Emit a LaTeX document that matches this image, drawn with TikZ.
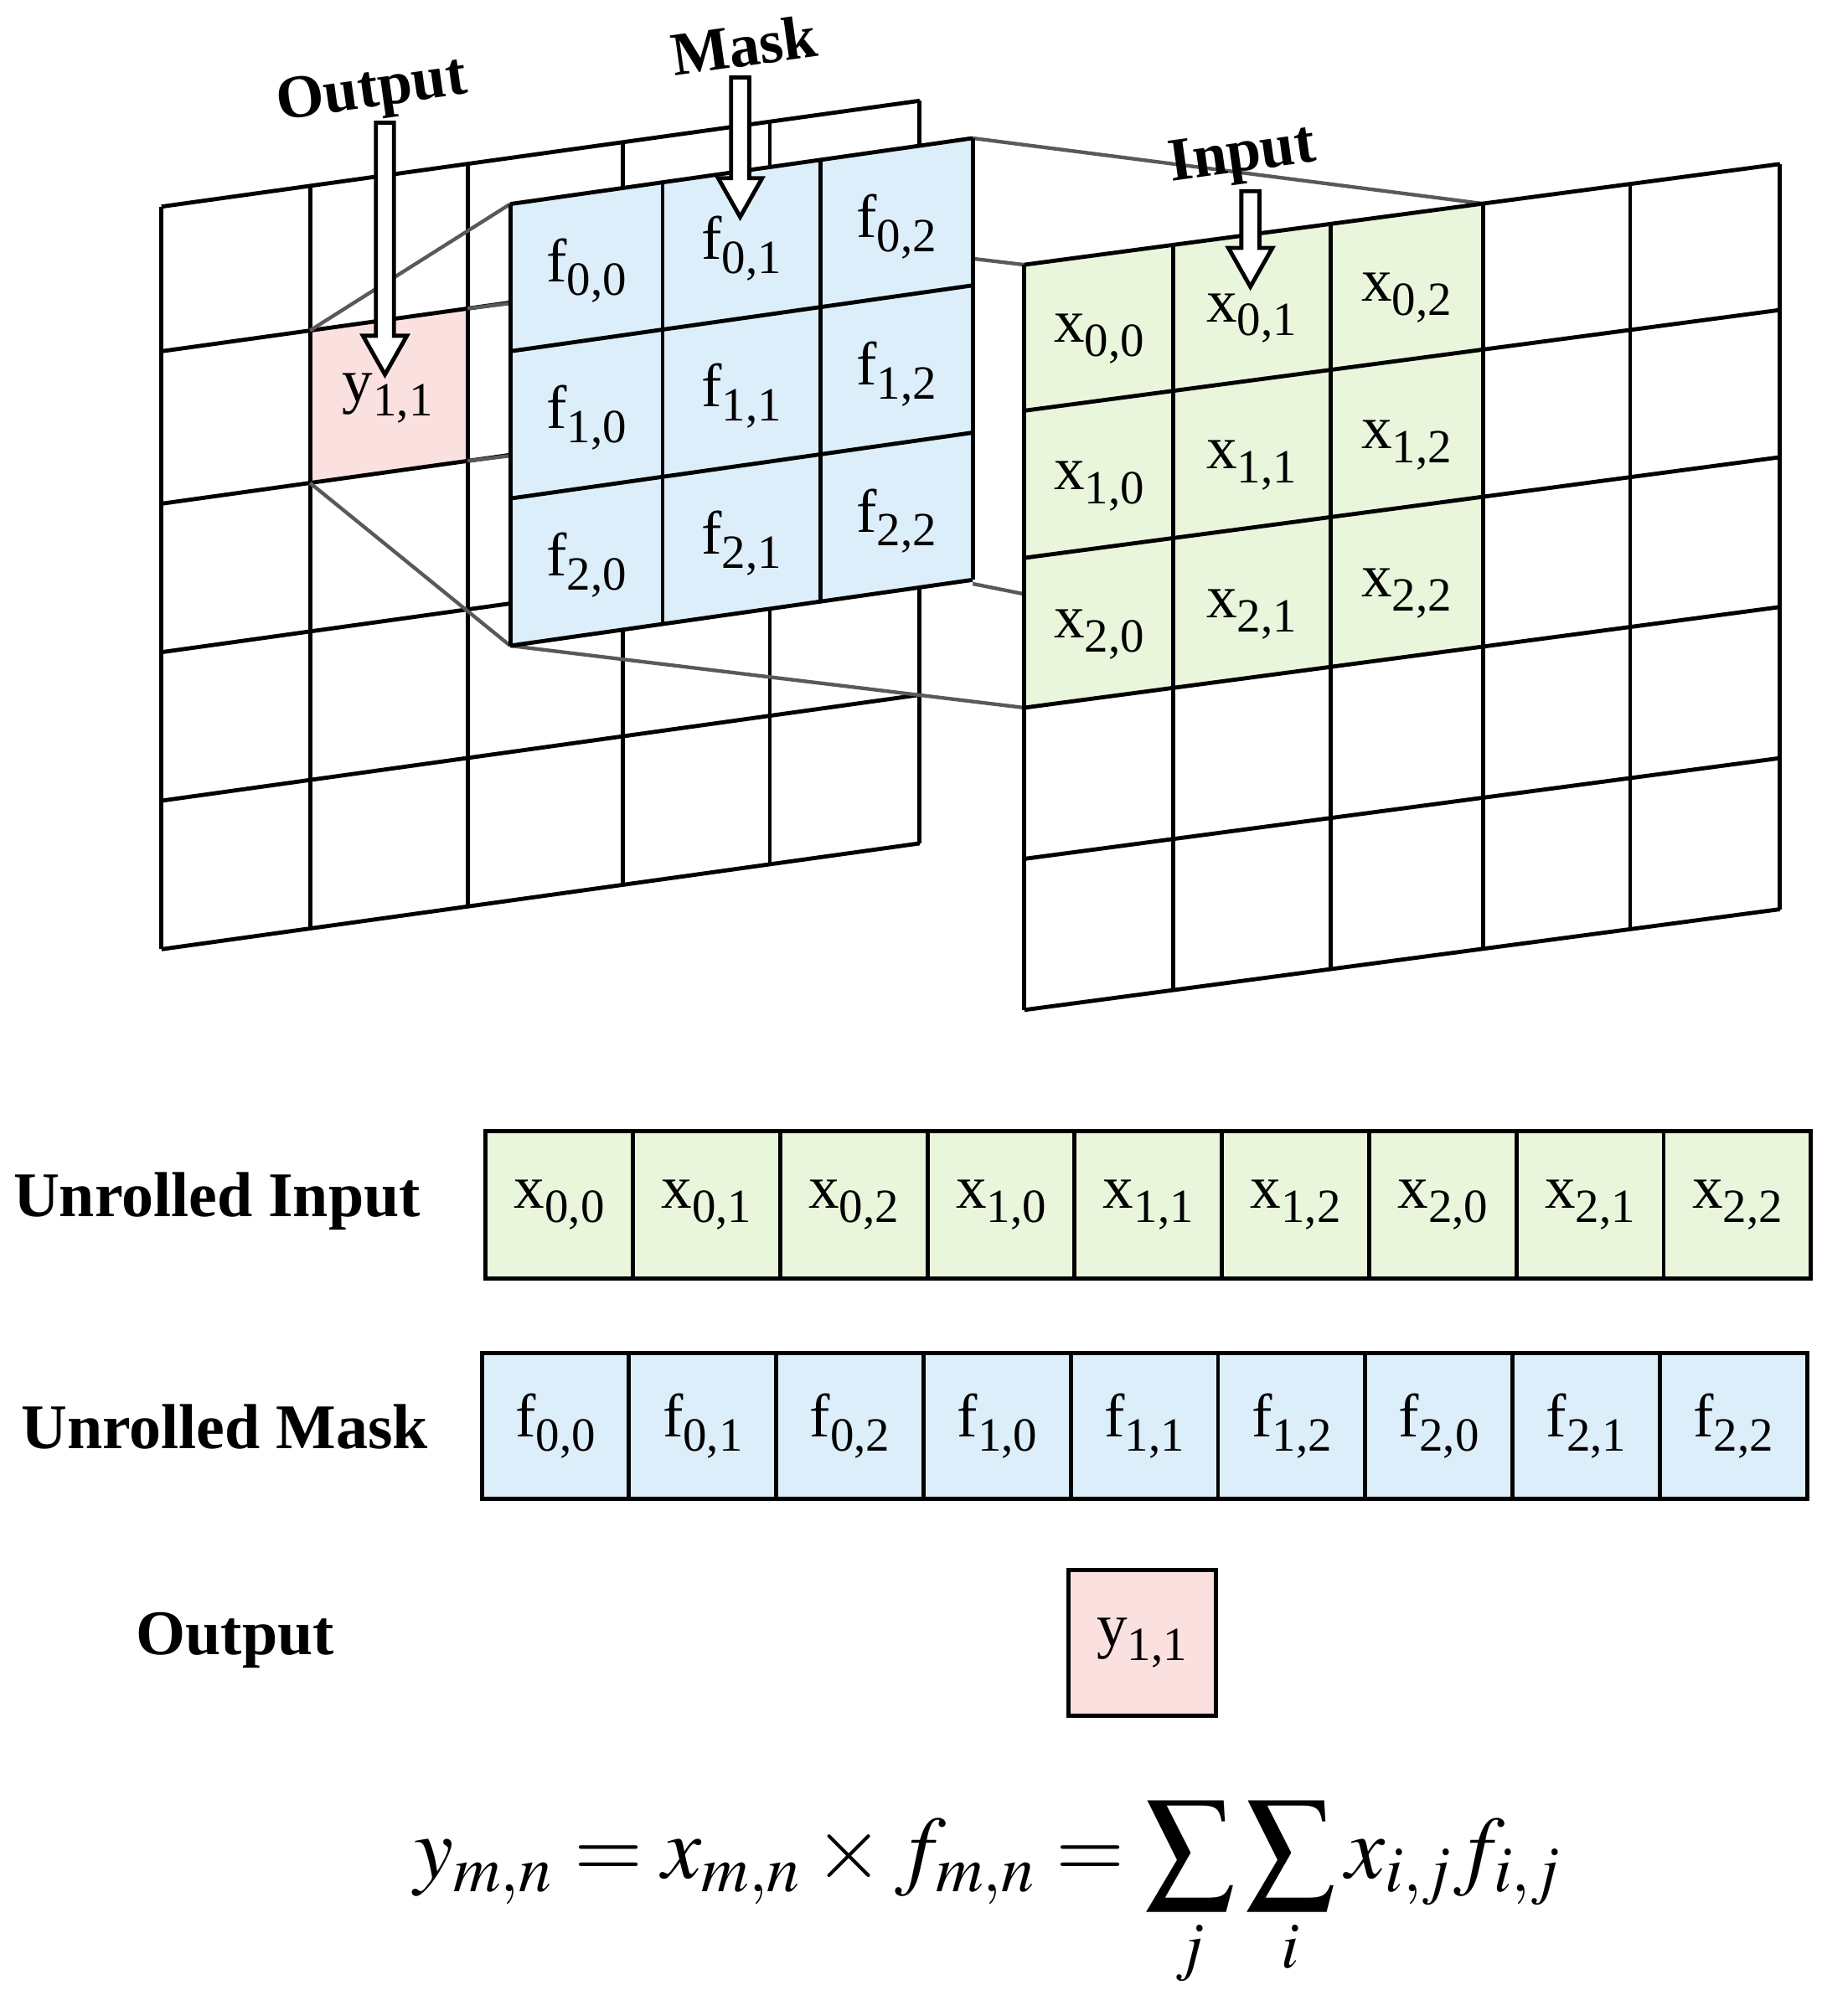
\documentclass[tikz,border=0pt]{standalone}
\usepackage{mathptmx}
\usepackage{fontspec}
\setmainfont{Liberation Serif}
\begin{document}
\newcommand\sbs[2]{#1\raisebox{-0.5ex}{\fontsize{10.5}{11}\selectfont #2}}
\newcommand\skewgrid[7]{%
 \foreach \xx in {#1}{\draw[gridline] (\xx,{#5+#7*(\xx-#3)}) -- (\xx,{#6+#7*(\xx-#3)});}
 \foreach \yy in {#2}{\draw[gridline] (#3,\yy) -- (#4,{\yy+#7*(#4-#3)});}}
\newcommand\quadfill[7]{% color, xa, xb, ya(left at x0), yb, x0, slope
 \fill[#1] (#2,{#4+#7*(#2-#6)}) -- (#3,{#4+#7*(#3-#6)}) -- (#3,{#5+#7*(#3-#6)}) -- (#2,{#5+#7*(#2-#6)}) -- cycle;}
\newcommand\hollowarrow[3]{%
 \draw[fill=white,line width=0.9pt] ({#1-7},#2) -- ({#1+7},#2) -- ({#1+7},{#3-30}) -- ({#1+17},{#3-30}) -- (#1,#3) -- ({#1-17},{#3-30}) -- ({#1-7},{#3-30}) -- cycle;}
\begin{tikzpicture}[x=0.01cm,y=-0.01cm,
 gridline/.style={line width=0.9pt,black},
 proj/.style={line width=0.8pt,gray!70!black},
 lbl/.style={font=\fontsize{13.5}{16}\selectfont},
 head/.style={font=\bfseries\fontsize{13.5}{16}\selectfont},
 big/.style={font=\bfseries\fontsize{14}{17}\selectfont},
]
\definecolor{pinkC}{HTML}{FBE0E0}
\definecolor{blueC}{HTML}{DDEEFB}
\definecolor{greenC}{HTML}{EAF6DC}
\useasboundingbox (0,0) rectangle (1410,1561);
\fill[white] (0,0) rectangle (1410,1561);
% output grid
\pgfmathsetmacro\sa{-82/587}
\quadfill{pinkC}{240}{362}{272}{390}{125}{\sa}
\skewgrid{125,240,362,482,596,712}{160,272,390,505,620,735}{125}{712}{160}{735}{\sa}
\node[lbl] (y11) at (300,{333+\sa*175}) {\sbs{y}{1,1}};
% projection lines
\draw[proj] (240,{272+\sa*115}) -- (395,158);
\draw[proj] (240,{390+\sa*115}) -- (395,500);
\draw[proj] (362,{272+\sa*237}) -- (395,{272+\sa*237-4});
\draw[proj] (362,{390+\sa*237}) -- (395,{390+\sa*237-4});
\draw[proj] (395,158) -- (793,205);
\draw[proj] (395,500) -- (793,548);
\draw[proj] (753,107) -- (1148,{205-0.1333*355});
\draw[proj] (753,452) -- (793,460);
% mask
\pgfmathsetmacro\sb{-51/358}
\quadfill{blueC}{395}{753}{158}{500}{395}{\sb}
\skewgrid{395,513,635,753}{158,272,386,500}{395}{753}{158}{500}{\sb}
\foreach \c/\cx in {0/454,1/574,2/694}{
 \foreach \r/\ry in {0/218,1/332,2/446}{
  \node[lbl] (f\r\c) at (\cx,{\ry+\sb*(\cx-395)}) {\sbs{f}{\r,\c}};}}
% input
\pgfmathsetmacro\sc{-78/585}
\quadfill{greenC}{793}{1148}{205}{548}{793}{\sc}
\skewgrid{793,908,1030,1148,1262,1378}{205,318,432,548,665,782}{793}{1378}{205}{782}{\sc}
\foreach \c/\cx in {0/851,1/969,2/1089}{
 \foreach \r/\ry in {0/270,1/384,2/499}{
  \node[lbl] (x\r\c) at (\cx,{\ry+\sc*(\cx-793)}) {\sbs{x}{\r,\c}};}}
% arrows and titles
\hollowarrow{298}{95}{290}
\hollowarrow{573}{60}{168}
\hollowarrow{968}{148}{222}
\node[head,rotate=8] (tout) at (288,72) {Output};
\node[head,rotate=8] (tmask) at (576,35) {Mask};
\node[head,rotate=8] (tin) at (962,122) {Input};
% unrolled
\foreach \i/\t in {0/{0,0},1/{0,1},2/{0,2},3/{1,0},4/{1,1},5/{1,2},6/{2,0},7/{2,1},8/{2,2}}{
 \node[draw,line width=0.9pt,fill=greenC,minimum width=1.14cm,minimum height=1.14cm,inner sep=0pt,lbl] (ux\i) at ({433+114*\i},933) {\sbs{x}{\t}};
 \node[draw,line width=0.9pt,fill=blueC,minimum width=1.14cm,minimum height=1.13cm,inner sep=0pt,lbl] (uf\i) at ({430+114*\i},1104) {\sbs{f}{\t}};}
\node[draw,line width=0.9pt,fill=pinkC,minimum width=1.14cm,minimum height=1.13cm,inner sep=0pt,lbl] (uy) at (884,1272) {\sbs{y}{1,1}};
\node[big] (lui) at (168,930) {Unrolled Input};
\node[big] (lum) at (174,1105) {Unrolled Mask};
\node[big] (luo) at (182,1270) {Output};
\node[font=\fontsize{19.5}{24}\selectfont] (eq) at (765,1468) {$\displaystyle y_{m,n}=x_{m,n}\times f_{m,n}=\sum_j\sum_i x_{i,j}f_{i,j}$};
\end{tikzpicture}
\end{document}
